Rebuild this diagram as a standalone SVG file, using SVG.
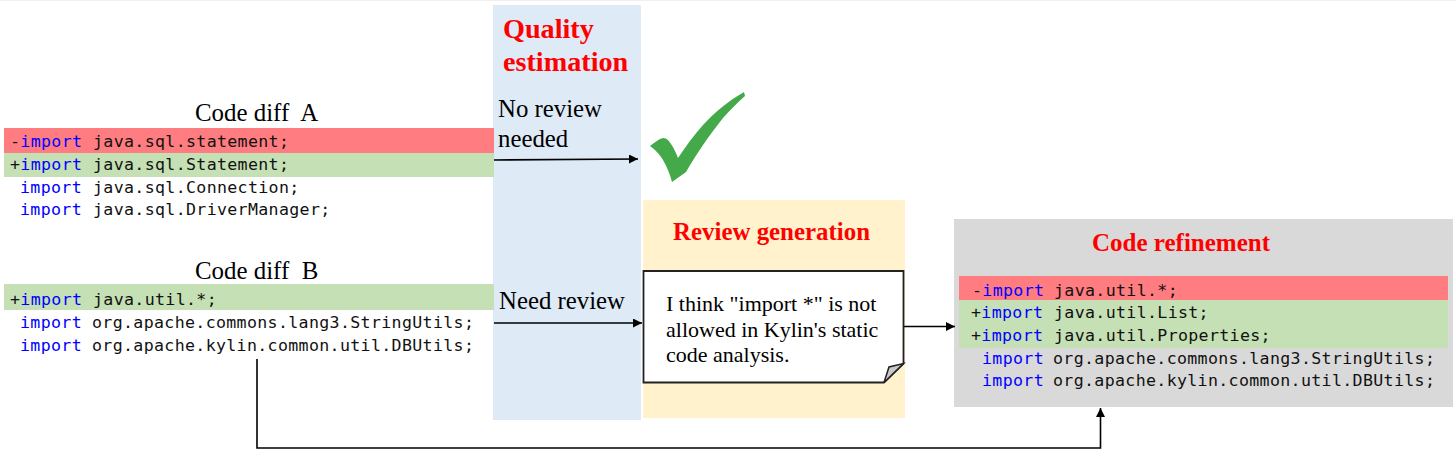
<svg xmlns="http://www.w3.org/2000/svg" width="1456" height="452" viewBox="0 0 1456 452">
<style>
.code{font-family:"DejaVu Sans Mono","Liberation Mono",monospace;font-size:16.6px;letter-spacing:.34px;fill:#111}
.kw{fill:#0000ff}
.t{font-family:"Liberation Serif","Times New Roman",serif;fill:#000}
.h{font-family:"Liberation Serif","Times New Roman",serif;fill:#ff0000;font-weight:700}
.ln{fill:none;stroke:#000;stroke-width:1.6}
</style>
<defs>
<marker id="ah" markerUnits="userSpaceOnUse" markerWidth="10" markerHeight="10" refX="9" refY="4.5" orient="auto"><path d="M0 0L9 4.5L0 9z" fill="#000"/></marker>
</defs>
<rect width="1456" height="452" fill="#fff"/>
<rect width="1456" height="1" fill="#f0f0f0"/>
<g id="quality-estimation">
<rect x="493" y="5" width="148" height="415" fill="#deeaf6"/>
<text class="h" font-size="28.200" x="503" y="38">Quality</text>
<text class="h" font-size="28.200" x="503" y="71">estimation</text>
<text class="t" font-size="24.800" x="498" y="117">No review</text>
<text class="t" font-size="24.800" x="498" y="147">needed</text>
<text class="t" font-size="24.800" x="499" y="309">Need review</text>
</g>
<g id="check-mark">
<path d="M650 146C655 142 659 139 663 138C667 138 669 141 671 144C674 148 676 153 678 158C686 146 694 135 703 125C716 111 730 100 744 92L745 96C737 103 730 110 723 118C716 127 709 136 703 145C697 154 691 163 686 172L672 182C670 174 667 167 663 160C660 155 656 150 650 146Z" fill="#43a949"/>
</g>
<g id="code-diff-a">
<text class="t" font-size="24.900" x="195" y="121" xml:space="preserve">Code diff  A</text>
<rect x="4" y="128" width="490" height="25" fill="#ff7c80"/>
<rect x="4" y="153" width="490" height="24" fill="#c5e0b4"/>
<text class="code" x="10" y="147">-<tspan class="kw">import</tspan></text><text class="code" x="93" y="147">java.sql.statement;</text>
<text class="code" x="10" y="170">+<tspan class="kw">import</tspan></text><text class="code" x="93" y="170">java.sql.Statement;</text>
<text class="code kw" x="20" y="193">import</text><text class="code" x="93" y="193">java.sql.Connection;</text>
<text class="code kw" x="20" y="215">import</text><text class="code" x="93" y="215">java.sql.DriverManager;</text>
</g>
<g id="code-diff-b">
<text class="t" font-size="24.900" x="195" y="279" xml:space="preserve">Code diff  B</text>
<rect x="4" y="284" width="490" height="26" fill="#c5e0b4"/>
<text class="code" x="10" y="305">+<tspan class="kw">import</tspan></text><text class="code" x="93" y="305">java.util.*;</text>
<text class="code kw" x="20" y="328">import</text><text class="code" x="92" y="328">org.apache.commons.lang3.StringUtils;</text>
<text class="code kw" x="20" y="351">import</text><text class="code" x="92" y="351">org.apache.kylin.common.util.DBUtils;</text>
</g>
<g id="review-generation">
<rect x="643" y="200" width="262" height="218" fill="#fff2cc"/>
<text class="h" font-size="24.900" x="771.500" y="240" text-anchor="middle">Review generation</text>
<path d="M643.500 271H903.500V363.500L884 382.500H643.500Z" fill="#fff" stroke="#222" stroke-width="1.800"/>
<path d="M884 382.500L889 367L903.500 363.500Z" fill="#c9c9c9" stroke="#222" stroke-width="1.500"/>
<text class="t" font-size="22" x="666" y="311">I think "import *" is not</text>
<text class="t" font-size="22" x="666" y="337">allowed in Kylin's static</text>
<text class="t" font-size="22" x="666" y="362">code analysis.</text>
</g>
<g id="code-refinement">
<rect x="954" y="219" width="499" height="188" fill="#d9d9d9"/>
<text class="h" font-size="25" x="1181" y="251" text-anchor="middle">Code refinement</text>
<rect x="959" y="276" width="489" height="24" fill="#ff7c80"/>
<rect x="959" y="300" width="489" height="48" fill="#c5e0b4"/>
<text class="code" x="972" y="296">-<tspan class="kw">import</tspan></text><text class="code" x="1054" y="296">java.util.*;</text>
<text class="code" x="971" y="318">+<tspan class="kw">import</tspan></text><text class="code" x="1054" y="318">java.util.List;</text>
<text class="code" x="971" y="341">+<tspan class="kw">import</tspan></text><text class="code" x="1054" y="341">java.util.Properties;</text>
<text class="code kw" x="982" y="364">import</text><text class="code" x="1053" y="364">org.apache.commons.lang3.StringUtils;</text>
<text class="code kw" x="982" y="386">import</text><text class="code" x="1053" y="386">org.apache.kylin.common.util.DBUtils;</text>
</g>
<g id="connectors">
<path class="ln" d="M494 160L638 159" marker-end="url(#ah)"/>
<path class="ln" d="M494 323L642 323" marker-end="url(#ah)"/>
<path class="ln" d="M904 326.500L955 326.500" marker-end="url(#ah)"/>
<path class="ln" d="M257 359V448H1100.500V408" marker-end="url(#ah)"/>
</g>
</svg>
